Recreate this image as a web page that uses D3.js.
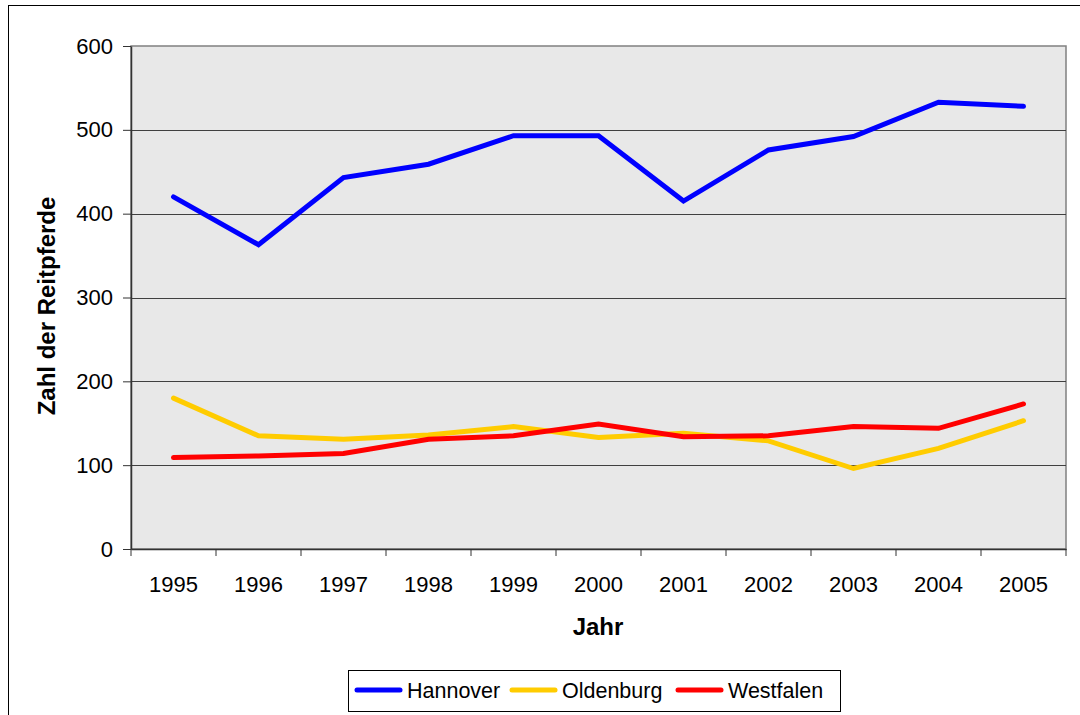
<!DOCTYPE html>
<html>
<head>
<meta charset="utf-8">
<script src="https://cdn.jsdelivr.net/npm/d3@7"></script>
<style>
  body { margin: 0; background: #fff; }
  svg text { font-family: "Liberation Sans", Arial, sans-serif; }
</style>
</head>
<body>
<div id="chart"></div>
<script>
let dim = { 'width': 1080, 'height': 715 };

let years = ["1995", "1996", "1997", "1998", "1999", "2000", "2001", "2002", "2003", "2004", "2005"];
let hannover  = [420, 363, 443, 459, 493, 493, 415, 476, 492, 533, 528];
let oldenburg = [180, 135, 131, 136, 146, 133, 138, 129, 96, 120, 153];
let westfalen = [109, 111, 114, 131, 135, 149, 134, 135, 146, 144, 173];
let yTicks = [0, 100, 200, 300, 400, 500, 600];

let series = [
    { name: "Hannover", values: hannover, color: "#0000ff" },
    { name: "Oldenburg", values: oldenburg, color: "#ffcc00" },
    { name: "Westfalen", values: westfalen, color: "#ff0000" }
];

let plot = { left: 131, right: 1066, top: 46, bottom: 549 };

let svg = d3.select('#chart').append('svg')
    .attr('width', dim.width)
    .attr('height', dim.height)
    .style('display', 'block');

// outer chart frame (right and bottom edges fall outside the picture)
svg.append('rect')
    .attr('x', 8.5).attr('y', 5.5)
    .attr('width', 1100).attr('height', 750)
    .attr('fill', 'none')
    .attr('stroke', '#000')
    .attr('stroke-width', 1);

let scaleX = d3.scaleBand()
    .domain(years)
    .range([plot.left, plot.right]);

let scaleY = d3.scaleLinear()
    .domain([0, 600])
    .range([plot.bottom, plot.top]);

// plot area
svg.append('rect')
    .attr('x', plot.left).attr('y', plot.top)
    .attr('width', plot.right - plot.left)
    .attr('height', plot.bottom - plot.top)
    .attr('fill', '#e8e8e8')
    .attr('stroke', '#808080')
    .attr('stroke-width', 1.5);

// gridlines
svg.append('g')
    .selectAll('line')
    .data(yTicks.filter(d => d > 0 && d < 600))
    .join('line')
    .attr('x1', plot.left).attr('x2', plot.right)
    .attr('y1', d => Math.round(scaleY(d)) + 0.5)
    .attr('y2', d => Math.round(scaleY(d)) + 0.5)
    .attr('stroke', '#404040')
    .attr('stroke-width', 1);

// y axis
let axisY = svg.append('g')
    .attr('transform', `translate(${plot.left},0)`)
    .call(d3.axisLeft(scaleY).tickValues(yTicks).tickSize(8).tickPadding(10).tickSizeOuter(0));
axisY.select('.domain').attr('stroke', '#333').attr('stroke-width', 1.5);
axisY.selectAll('.tick line').attr('stroke', '#333');
axisY.selectAll('.tick text').attr('font-size', 22).attr('fill', '#000')
    .attr('font-family', '"Liberation Sans", Arial, sans-serif');

// x axis
let axisX = svg.append('g')
    .attr('transform', `translate(0,${plot.bottom})`)
    .call(d3.axisBottom(scaleX).tickSize(0).tickPadding(27));
axisX.select('.domain').attr('stroke', '#333').attr('stroke-width', 1.5);
axisX.selectAll('.tick text').attr('font-size', 22).attr('fill', '#000')
    .attr('font-family', '"Liberation Sans", Arial, sans-serif');

// x tick marks at band boundaries
svg.append('g')
    .selectAll('line')
    .data(years.concat(['end']))
    .join('line')
    .attr('x1', d => d === 'end' ? plot.right : scaleX(d))
    .attr('x2', d => d === 'end' ? plot.right : scaleX(d))
    .attr('y1', plot.bottom)
    .attr('y2', plot.bottom + 7)
    .attr('stroke', '#333');

// lines
let lineGen = d3.line()
    .x((d, i) => scaleX(years[i]) + scaleX.bandwidth() / 2)
    .y(d => scaleY(d));

svg.append('g')
    .selectAll('path')
    .data(series)
    .join('path')
    .attr('d', d => lineGen(d.values))
    .attr('fill', 'none')
    .attr('stroke', d => d.color)
    .attr('stroke-width', 5)
    .attr('stroke-linejoin', 'miter')
    .attr('stroke-linecap', 'round');

// axis titles
svg.append('text')
    .attr('x', 598)
    .attr('y', 635)
    .attr('text-anchor', 'middle')
    .attr('font-size', 24)
    .attr('font-weight', 'bold')
    .text('Jahr');

svg.append('text')
    .attr('transform', `translate(55,306) rotate(-90)`)
    .attr('text-anchor', 'middle')
    .attr('font-size', 24)
    .attr('font-weight', 'bold')
    .text('Zahl der Reitpferde');

// legend
let legend = svg.append('g');
legend.append('rect')
    .attr('x', 348.5).attr('y', 670.5)
    .attr('width', 492).attr('height', 41)
    .attr('fill', '#fff')
    .attr('stroke', '#000');

let legendX = [355, 510, 676];
let items = legend.selectAll('g.item')
    .data(series)
    .join('g')
    .attr('class', 'item')
    .attr('transform', (d, i) => `translate(${legendX[i]},690)`);
items.append('line')
    .attr('x1', 2).attr('x2', 45)
    .attr('stroke', d => d.color)
    .attr('stroke-width', 5)
    .attr('stroke-linecap', 'round');
items.append('text')
    .attr('x', 52)
    .attr('y', 7.5)
    .attr('font-size', 21.5)
    .text(d => d.name);
</script>
</body>
</html>
